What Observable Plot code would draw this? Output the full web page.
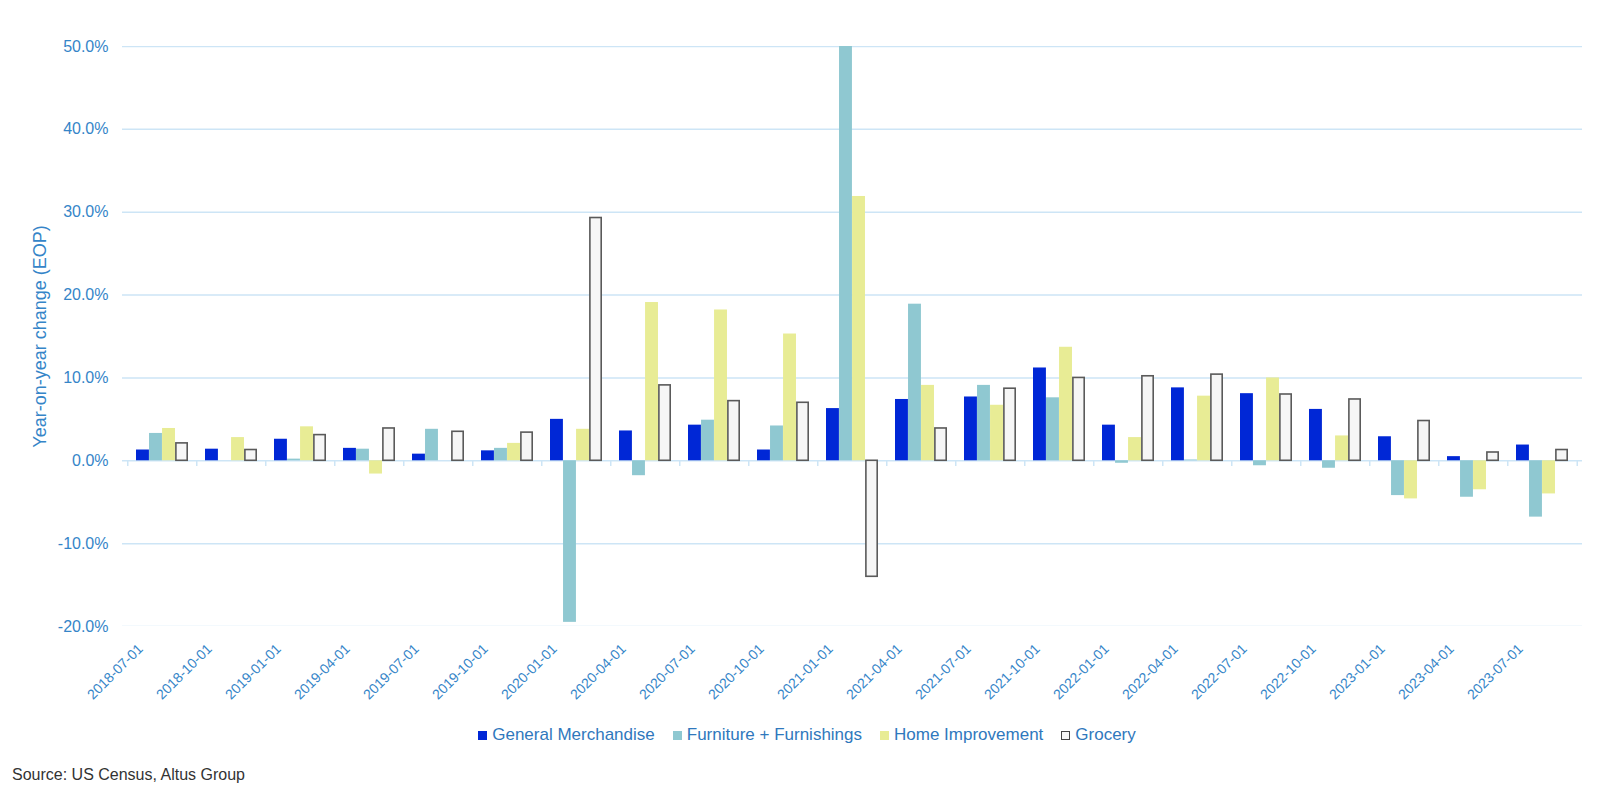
<!DOCTYPE html>
<html>
<head>
<meta charset="utf-8">
<script src="https://cdn.jsdelivr.net/npm/d3@7"></script>
<script src="https://cdn.jsdelivr.net/npm/@observablehq/plot@0.6"></script>
<style>
  html, body { margin: 0; padding: 0; background: #fff; }
  body { width: 1614px; height: 802px; font-family: "Liberation Sans", Arial, sans-serif; }
  #legend { display: flex; justify-content: center; gap: 18px; height: 30px; align-items: center; font-size: 17px; color: #2f78bd; }
  #legend .item { display: flex; align-items: center; gap: 5px; }
  #legend .sw { width: 9px; height: 9px; display: inline-block; box-sizing: border-box; }
  #source { font-size: 16px; color: #333; margin: 16px 0 0 12px; }
</style>
</head>
<body>
<div id="chart"></div>
<div id="legend"></div>
<div id="source">Source: US Census, Altus Group</div>
<script>
const dates = ["2018-07-01","2018-10-01","2019-01-01","2019-04-01","2019-07-01","2019-10-01","2020-01-01","2020-04-01","2020-07-01","2020-10-01","2021-01-01","2021-04-01","2021-07-01","2021-10-01","2022-01-01","2022-04-01","2022-07-01","2022-10-01","2023-01-01","2023-04-01","2023-07-01"];
const seriesNames = ["General Merchandise", "Furniture + Furnishings", "Home Improvement", "Grocery"];
const generalMerchandise = [1.3, 1.4, 2.6, 1.5, 0.8, 1.2, 5.0, 3.6, 4.3, 1.3, 6.3, 7.4, 7.7, 11.2, 4.3, 8.8, 8.1, 6.2, 2.9, 0.5, 1.9];
const furniture = [3.3, 0.0, 0.2, 1.4, 3.8, 1.5, -19.5, -1.8, 4.9, 4.2, 50.0, 18.9, 9.1, 7.6, -0.3, 0.1, -0.6, -0.9, -4.2, -4.4, -6.8];
const homeImprovement = [3.9, 2.8, 4.1, -1.6, 0.0, 2.1, 3.8, 19.1, 18.2, 15.3, 31.9, 9.1, 6.7, 13.7, 2.8, 7.8, 10.0, 3.0, -4.6, -3.5, -4.0];
const grocery = [2.1, 1.3, 3.1, 3.9, 3.5, 3.4, 29.3, 9.1, 7.2, 7.0, -14.0, 3.9, 8.7, 10.0, 10.2, 10.4, 8.0, 7.4, 4.8, 1.0, 1.3];
const yTicks = [-20, -10, 0, 10, 20, 30, 40, 50];

const colors = ["#0027d6", "#8fc8d1", "#e8ec95", "#f6f6f6"];
const allValues = [generalMerchandise, furniture, homeImprovement, grocery];

const W = 1614, H = 720, mL = 122, mR = 32, mT = 46, mB = 94;
const padIn = 0.25, padOut = 0.13;
const band = d3.scaleBand().domain(dates).range([mL, W - mR]).paddingInner(padIn).paddingOuter(padOut);
const bw = band.bandwidth();
const step = band.step();
const bar = bw / 4;

const axisColor = "#3585c8";
const gridColor = "#cde5f6";

const barMarks = allValues.map((vals, i) => {
  const data = dates.map((d, j) => ({date: d, value: vals[j], series: seriesNames[i]}));
  return Plot.barY(data, {
    x: "date", y: "value",
    fill: colors[i],
    stroke: i === 3 ? "#5a5a5a" : null,
    strokeWidth: i === 3 ? 1.6 : 0,
    insetLeft: i * bar + (i === 3 ? 0.8 : 0),
    insetRight: (3 - i) * bar + (i === 3 ? 0.8 : 0)
  });
});

const chart = Plot.plot({
  width: W, height: H,
  marginLeft: mL, marginRight: mR, marginTop: mT, marginBottom: mB,
  style: {fontFamily: '"Liberation Sans", Arial, sans-serif', background: "#fff"},
  x: {type: "band", domain: dates, paddingInner: padIn, paddingOuter: padOut},
  y: {domain: [-20, 50]},
  clip: true,
  marks: [
    Plot.ruleY(yTicks, {stroke: gridColor, strokeWidth: 1.5}),
    Plot.ruleX(dates, {x: d => d, dx: -step / 2, y1: 0, y2: -0.7, stroke: gridColor, strokeWidth: 1.5}),
    Plot.ruleX(dates.slice(-1), {x: d => d, dx: step / 2, y1: 0, y2: -0.7, stroke: gridColor, strokeWidth: 1.5}),
    ...barMarks,
    Plot.axisY({
      ticks: yTicks, tickSize: 0, tickPadding: 14,
      tickFormat: d => d.toFixed(1) + "%",
      fontSize: 16, color: axisColor, label: null
    }),
    Plot.axisY({
      ticks: [], tickSize: 0, fontSize: 18, color: axisColor,
      label: "Year-on-year change (EOP)", labelAnchor: "center", labelArrow: "none", labelOffset: 89
    }),
    Plot.axisX({
      anchor: "bottom", tickSize: 0, tickRotate: -45, tickPadding: 10,
      dx: -22, dy: 10,
      fontSize: 14, color: axisColor, label: null
    })
  ]
});
document.getElementById("chart").appendChild(chart);

const legend = document.getElementById("legend");
seriesNames.forEach((name, i) => {
  const item = document.createElement("span");
  item.className = "item";
  const sw = document.createElement("span");
  sw.className = "sw";
  sw.style.background = colors[i];
  if (i === 3) sw.style.border = "1.5px solid #444";
  item.appendChild(sw);
  const t = document.createElement("span");
  t.textContent = name;
  item.appendChild(t);
  legend.appendChild(item);
});
</script>
</body>
</html>
